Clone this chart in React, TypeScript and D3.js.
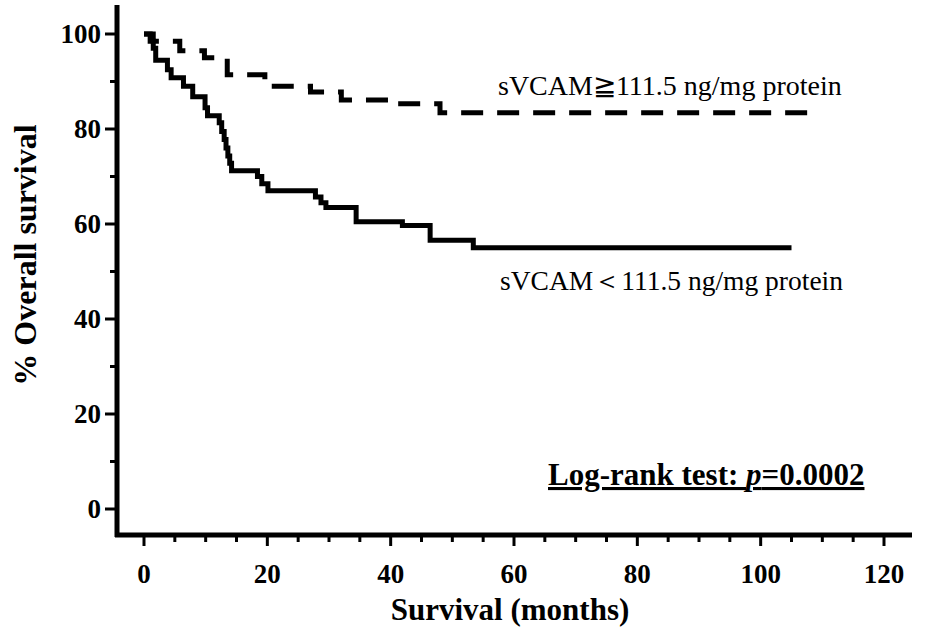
import React from 'react';
import * as d3 from 'd3';

// Kaplan-Meier steps: [month, % surviving after that month]
const lowTimes = [0, 1, 1.5, 1.9, 3.8, 4.4, 6.4, 7.9, 9.9, 10.3, 12.2, 12.6, 13, 13.3, 13.6, 13.9, 14.2, 18.4, 19.1, 20.1, 27.8, 28.7, 29.5, 34.4, 41.9, 46.4, 53.4, 105];
const lowSurvival = [100, 98.5, 97, 94.5, 92.5, 90.8, 89, 86.8, 84.5, 82.8, 81.3, 79.5, 77.8, 76, 74.3, 72.8, 71.2, 70, 68.5, 67, 65.7, 64.5, 63.5, 60.5, 59.7, 56.6, 55, 55];

const highTimes = [0, 1.5, 5.8, 9.8, 13.5, 19.6, 27, 32, 40, 48, 108];
const highSurvival = [100, 98.5, 96.5, 95, 91.4, 89, 87.8, 86.1, 85.3, 83.4, 83.4];

const xTicks = [0, 20, 40, 60, 80, 100, 120];
const yTicks = [0, 20, 40, 60, 80, 100];
const xMinor = d3.range(0, 125, 5);
const yMinor = d3.range(0, 105, 10);

const lowLabel = 'sVCAM\uFF1C111.5 ng/mg protein';
const highLabel = 'sVCAM\u2267111.5 ng/mg protein';

const W = 945;
const H = 632;
const serif = "'Liberation Serif', 'Times New Roman', serif";

export default function App() {
  const x = d3.scaleLinear().domain([0, 120]).range([144, 884]);
  const y = d3.scaleLinear().domain([0, 100]).range([509, 34]);

  const line = d3.line<[number, number]>()
    .x(d => x(d[0]))
    .y(d => y(d[1]))
    .curve(d3.curveStepAfter);

  const lowPts = lowTimes.map((t, i) => [t, lowSurvival[i]] as [number, number]);
  const highPts = highTimes.map((t, i) => [t, highSurvival[i]] as [number, number]);

  const axisX = 117;
  const axisY = 535;

  return (
    <svg width={W} height={H} style={{ position: 'absolute', left: 0, top: 0, background: '#fff' }}>
      {/* axes */}
      <line x1={axisX} x2={axisX} y1={5} y2={axisY + 2} stroke="#000" strokeWidth={5} />
      <line x1={axisX - 2} x2={912} y1={axisY} y2={axisY} stroke="#000" strokeWidth={5} />

      {yMinor.map(v => (
        <line key={'ym' + v} x1={axisX - (v % 20 === 0 ? 12 : 7)} x2={axisX} y1={y(v)} y2={y(v)} stroke="#000" strokeWidth={3} />
      ))}
      {xMinor.map(t => (
        <line key={'xm' + t} x1={x(t)} x2={x(t)} y1={axisY} y2={axisY + (t % 20 === 0 ? 11 : 7)} stroke="#000" strokeWidth={3} />
      ))}

      {yTicks.map(v => (
        <text key={'yt' + v} x={101} y={y(v)} dy="0.33em" textAnchor="end" fontFamily={serif} fontWeight="bold" fontSize={27}>{v}</text>
      ))}
      {xTicks.map(t => (
        <text key={'xt' + t} x={x(t)} y={583} textAnchor="middle" fontFamily={serif} fontWeight="bold" fontSize={27}>{t}</text>
      ))}

      <text x={510} y={620} textAnchor="middle" fontFamily={serif} fontWeight="bold" fontSize={31}>Survival (months)</text>
      <text transform="translate(36,255) rotate(-90)" textAnchor="middle" fontFamily={serif} fontWeight="bold" fontSize={32}>% Overall survival</text>

      {/* curves */}
      <path d={line(lowPts) || ''} fill="none" stroke="#000" strokeWidth={5} />
      <path d={line(highPts) || ''} fill="none" stroke="#000" strokeWidth={5} strokeDasharray="22 14" />

      <text x={498} y={95} fontFamily={serif} fontSize={28}>{highLabel}</text>
      <text x={500} y={290} fontFamily={serif} fontSize={27.5}>{lowLabel}</text>

      <text x={548} y={485} fontFamily={serif} fontWeight="bold" fontSize={31} textDecoration="underline">
        Log-rank test: <tspan fontStyle="italic">p</tspan>=0.0002
      </text>
    </svg>
  );
}
